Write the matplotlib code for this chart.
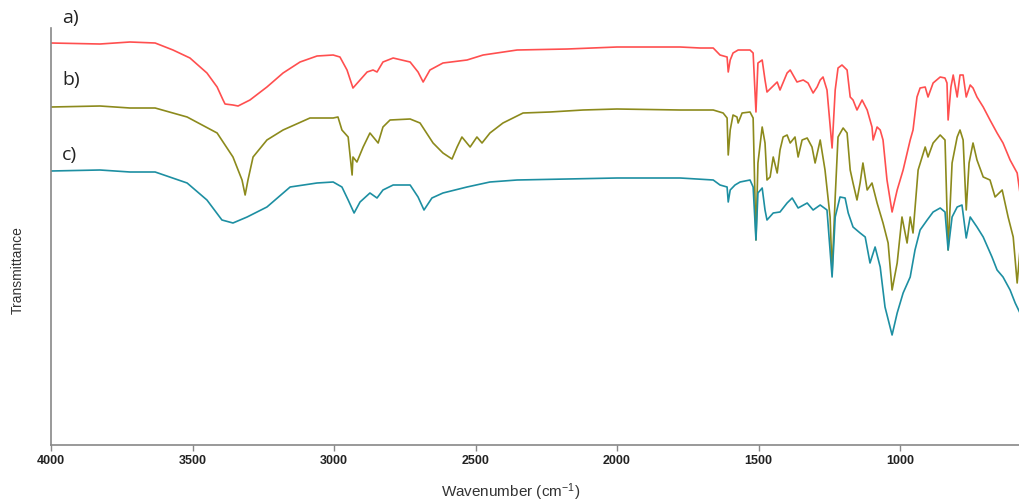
"""
FTIR spectra of three samples (a, b, c), offset vertically.
"""
import matplotlib.pyplot as plt

plt.rcParams["mathtext.fontset"] = "custom"
plt.rcParams["mathtext.rm"] = "Liberation Sans"
plt.rcParams["mathtext.it"] = "Liberation Sans"

# wavenumber (cm-1) / transmittance (arb. units, offset) for each spectrum
wn_a = [4000, 3827, 3721, 3632, 3569, 3509, 3449, 3413, 3392, 3385, 3357, 3339, 3297, 3237,
        3180, 3120, 3060, 3003, 2979, 2954, 2933, 2908, 2883, 2862, 2848, 2827, 2791, 2731,
        2703, 2685, 2661, 2615, 2530, 2473, 2353, 2176, 2000, 1777, 1706, 1660, 1636, 1611,
        1607, 1600, 1590, 1572, 1530, 1519, 1509, 1502, 1487, 1477, 1470, 1452, 1434, 1424,
        1399, 1388, 1364, 1342, 1325, 1307, 1293, 1282, 1272, 1258, 1240, 1229, 1219, 1205,
        1187, 1176, 1166, 1152, 1134, 1116, 1099, 1095, 1081, 1070, 1060, 1046, 1028, 1010,
        989, 964, 954, 940, 929, 911, 901, 883, 858, 841, 834, 830, 820, 812, 798, 788, 777,
        766, 752, 742, 728, 706, 682, 657, 636, 611, 586, 576]
t_a = [402, 401, 403, 402, 395, 387, 372, 358, 345, 341, 340, 339, 345, 358,
       372, 383, 389, 390, 388, 375, 357, 365, 373, 375, 373, 383, 387, 383,
       373, 363, 375, 382, 385, 390, 395, 396, 398, 398, 397, 397, 390, 388,
       373, 385, 392, 395, 395, 392, 333, 382, 385, 365, 353, 358, 363, 355,
       372, 375, 363, 365, 362, 352, 358, 365, 368, 355, 297, 355, 377, 380,
       375, 348, 345, 335, 345, 335, 318, 305, 318, 315, 305, 265, 233, 255,
       275, 305, 315, 348, 357, 358, 348, 362, 368, 367, 362, 325, 358, 370, 348, 370, 370,
       348, 360, 357, 348, 338, 325, 312, 302, 285, 272, 252]

wn_b = [4000, 3827, 3721, 3632, 3519, 3413, 3357, 3325, 3314, 3304, 3286, 3237, 3180, 3085,
        3003, 2986, 2972, 2950, 2936, 2933, 2919, 2897, 2873, 2844, 2827, 2802, 2731, 2696,
        2650, 2615, 2583, 2565, 2548, 2519, 2495, 2477, 2449, 2403, 2332, 2237, 2120, 2000,
        1777, 1660, 1625, 1611, 1607, 1600, 1590, 1576, 1572, 1558, 1530, 1519, 1509, 1502,
        1487, 1477, 1470, 1459, 1448, 1434, 1424, 1413, 1399, 1388, 1371, 1360, 1346, 1328,
        1311, 1300, 1282, 1265, 1247, 1240, 1229, 1219, 1201, 1187, 1176, 1166, 1152, 1141,
        1131, 1116, 1099, 1081, 1060, 1042, 1028, 1010, 993, 975, 964, 954, 936, 911, 901,
        883, 858, 841, 830, 816, 798, 788, 777, 766, 756, 742, 728, 706, 682, 664, 639, 618,
        600, 586, 576]
t_b = [338, 339, 337, 337, 328, 312, 288, 265, 250, 265, 288, 305, 315, 327,
       327, 328, 315, 308, 270, 288, 283, 298, 312, 302, 318, 325, 326, 322,
       302, 292, 286, 298, 308, 298, 308, 302, 312, 322, 332, 333, 335, 336,
       335, 335, 332, 327, 290, 315, 330, 328, 322, 332, 333, 327, 205, 282,
       318, 302, 265, 268, 288, 272, 295, 308, 310, 302, 308, 288, 305, 307,
       298, 282, 305, 275, 228, 172, 248, 308, 317, 312, 275, 262, 245, 262,
       282, 255, 262, 242, 222, 202, 155, 182, 228, 202, 228, 212, 275, 298, 288,
       302, 310, 305, 195, 282, 308, 315, 305, 235, 282, 302, 285, 268, 265, 248, 255, 228,
       208, 162, 195]

wn_c = [4000, 3827, 3721, 3632, 3519, 3449, 3396, 3357, 3307, 3237, 3155, 3060, 3003, 2972,
        2950, 2929, 2908, 2873, 2848, 2827, 2791, 2731, 2703, 2682, 2654, 2615, 2530, 2449,
        2353, 2176, 2000, 1777, 1660, 1636, 1611, 1607, 1600, 1583, 1565, 1530, 1519, 1509,
        1502, 1487, 1477, 1470, 1448, 1424, 1399, 1381, 1360, 1328, 1307, 1282, 1258, 1240,
        1229, 1212, 1194, 1183, 1166, 1141, 1123, 1106, 1088, 1070, 1053, 1028, 1010, 989,
        964, 947, 929, 904, 883, 858, 841, 830, 816, 798, 781, 766, 752, 728, 706, 675, 657,
        636, 611, 593, 576]
t_c = [274, 275, 273, 273, 262, 245, 225, 222, 228, 238, 258, 262, 263, 258,
       245, 232, 243, 252, 247, 255, 260, 260, 248, 235, 247, 252, 258, 263,
       265, 266, 267, 267, 265, 260, 258, 243, 255, 260, 263, 265, 258, 205,
       252, 257, 235, 225, 232, 233, 242, 247, 237, 242, 235, 240, 235, 168,
       228, 248, 247, 232, 218, 212, 208, 182, 198, 178, 138, 110, 132, 152,
       168, 195, 215, 225, 233, 237, 233, 195, 228, 238, 240, 207, 228, 218, 208, 188, 175,
       168, 155, 142, 132]

spectra = [("a)", wn_a, t_a, "#ff4f4f"),
           ("b)", wn_b, t_b, "#8c8a1c"),
           ("c)", wn_c, t_c, "#1d8fa2")]
label_y = [427, 365, 290]

GRAY = "#888888"

fig = plt.figure(figsize=(10.2, 5.01), dpi=100)
ax = fig.add_axes([0.05, 0.1118, 0.95, 0.8323])

for (name, wn, t, color), ly in zip(spectra, label_y):
    ax.plot(wn, t, color=color, linewidth=1.2)
    ax.text(3960, ly, name, fontsize=14, color="#222222", ha="left", va="center",
            family="Open Sans", clip_on=False)

ax.set_xlim(4000, 576)
ax.set_ylim(0, 417)
ax.set_xticks([4000, 3500, 3000, 2500, 2000, 1500, 1000])
ax.set_yticks([])
for side in ("top", "right"):
    ax.spines[side].set_visible(False)
for side in ("left", "bottom"):
    ax.spines[side].set_color(GRAY)
    ax.spines[side].set_linewidth(1.2)
ax.tick_params(axis="x", direction="out", length=4, width=1, color=GRAY,
               labelsize=9, labelcolor="#222222", pad=3)
for lbl in ax.get_xticklabels():
    lbl.set_fontweight("bold")
    lbl.set_family("Liberation Sans")

ax.set_xlabel("Wavenumber (cm$^{-1}$)", fontsize=11, family="Liberation Sans",
              color="#333333", va="center")
ax.xaxis.set_label_coords(0.474, -0.113)
ax.set_ylabel("Transmittance", fontsize=10, family="Liberation Sans",
              color="#333333", va="center")
ax.yaxis.set_label_coords(-0.034, 0.42)

fig.savefig("out.png", dpi=100)
